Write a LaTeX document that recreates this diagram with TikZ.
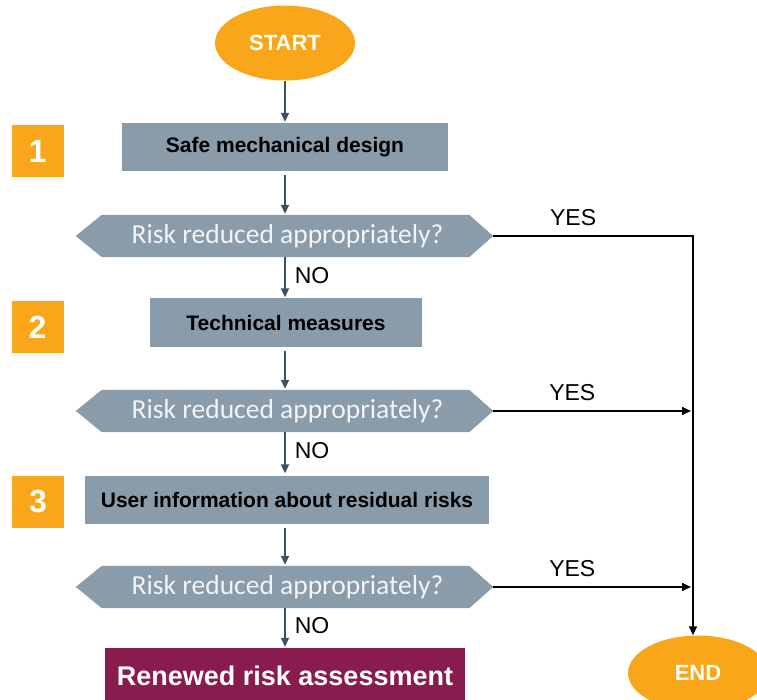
\documentclass[tikz,border=0pt]{standalone}
\usepackage{fontspec}
\setmainfont{Liberation Sans}
\newfontfamily\calibrifont{Carlito}
\usetikzlibrary{arrows.meta,shapes.geometric}

\definecolor{termorange}{HTML}{F9A61A}
\definecolor{stepgray}{HTML}{8A9BA9}
\definecolor{flowslate}{HTML}{3E5163}
\definecolor{finalmaroon}{HTML}{881C4E}
\definecolor{questiontext}{HTML}{F4F4F4}

\tikzset{
  terminal/.style={ellipse, fill=termorange, minimum width=140, minimum height=75,
    inner sep=0, text=white, font=\bfseries\fontsize{22}{22}\selectfont},
  stepbox/.style={rectangle, fill=stepgray, minimum height=48, inner sep=0,
    text=black, font=\bfseries\fontsize{21}{21}\selectfont},
  numbox/.style={rectangle, fill=termorange, minimum width=52, minimum height=52,
    inner sep=0, text=white, font=\bfseries\fontsize{32}{32}\selectfont},
  question/.style={rectangle, minimum width=417, minimum height=42, inner sep=0,
    text=questiontext, font=\calibrifont\fontsize{27.5}{27.5}\selectfont},
  finalbox/.style={rectangle, fill=finalmaroon, minimum width=360, minimum height=56,
    inner sep=0, text=white, font=\bfseries\fontsize{27}{27}\selectfont},
  flow/.style={draw=flowslate, line width=1.6pt, -{Triangle[length=9pt,width=8pt]}},
  yesline/.style={draw=black, line width=1.6pt},
  yesarrow/.style={yesline, -{Triangle[length=9pt,width=8pt]}},
  branchlabel/.style={font=\fontsize{23}{23}\selectfont, inner sep=0},
}

% hexagonal decision outline around a question node
\newcommand{\decisionshape}[1]{%
  \fill[stepgray] (#1.west) -- ([xshift=26pt]#1.north west) -- ([xshift=-24pt]#1.north east)
    -- (#1.east) -- ([xshift=-24pt]#1.south east) -- ([xshift=26pt]#1.south west) -- cycle;}

\begin{document}
\begin{tikzpicture}[x=1pt,y=-1pt]
  \useasboundingbox (0,0) rectangle (757,700);
  \begin{scope}
  \clip (0,0) rectangle (757,700);

  % terminals
  \node[terminal] (start) at (285,43) {START};
  \node[terminal] (end) at (698,673) {END};

  % process steps
  \node[stepbox, minimum width=326] (s1) at (285,147) {Safe mechanical design};
  \node[stepbox, minimum width=272] (s2) at (286,322.5) {Technical measures};
  \node[stepbox, minimum width=404] (s3) at (287,499.5) {User information about residual risks};

  \node[numbox] (n1) at (37.5,151) {1};
  \node[numbox] (n2) at (37.5,327) {2};
  \node[numbox] (n3) at (38,501.5) {3};

  % decisions
  \node[question] (q1) at (284.5,236) {};
  \node[question] (q2) at (284.5,411) {};
  \node[question] (q3) at (284.5,587) {};
  \decisionshape{q1}
  \decisionshape{q2}
  \decisionshape{q3}
  \node[question, xshift=3pt] at (q1) {Risk reduced appropriately?};
  \node[question, xshift=3pt] at (q2) {Risk reduced appropriately?};
  \node[question, xshift=3pt] at (q3) {Risk reduced appropriately?};

  \node[finalbox] (final) at (285,676) {Renewed risk assessment};

  % main flow, kept vertical on the column x = 285
  \coordinate (col) at (285,0);
  \draw[flow] (start.south) -- ([yshift=1pt]col |- s1.north);
  \draw[flow] ([yshift=-4pt]col |- s1.south) -- ([yshift=1pt]col |- q1.north);
  \draw[flow] (col |- q1.south) -- node[branchlabel, right=9pt, pos=0.45] {NO} ([yshift=1pt]col |- s2.north);
  \draw[flow] ([yshift=-4pt]col |- s2.south) -- ([yshift=1pt]col |- q2.north);
  \draw[flow] (col |- q2.south) -- node[branchlabel, right=9pt, pos=0.45] {NO} ([yshift=2pt]col |- s3.north);
  \draw[flow] ([yshift=-4pt]col |- s3.south) -- ([yshift=1pt]col |- q3.north);
  \draw[flow] (col |- q3.south) -- node[branchlabel, right=9pt, pos=0.45] {NO} ([yshift=1pt]col |- final.north);

  % YES branches
  \coordinate (corner) at (693,236);
  \coordinate (join2) at (691,411);
  \coordinate (join3) at (691,587);
  \draw[yesline] (q1.east) -- node[branchlabel, above=9pt, pos=0.4] {YES} (corner)
    -- ([yshift=1pt]corner);
  \draw[yesarrow] (corner) -- (end.north -| corner);
  \draw[yesarrow] (q2.east) -- node[branchlabel, above=9pt, pos=0.4] {YES} (join2);
  \draw[yesarrow] (q3.east) -- node[branchlabel, above=9pt, pos=0.4] {YES} (join3);
  \end{scope}
\end{tikzpicture}
\end{document}
